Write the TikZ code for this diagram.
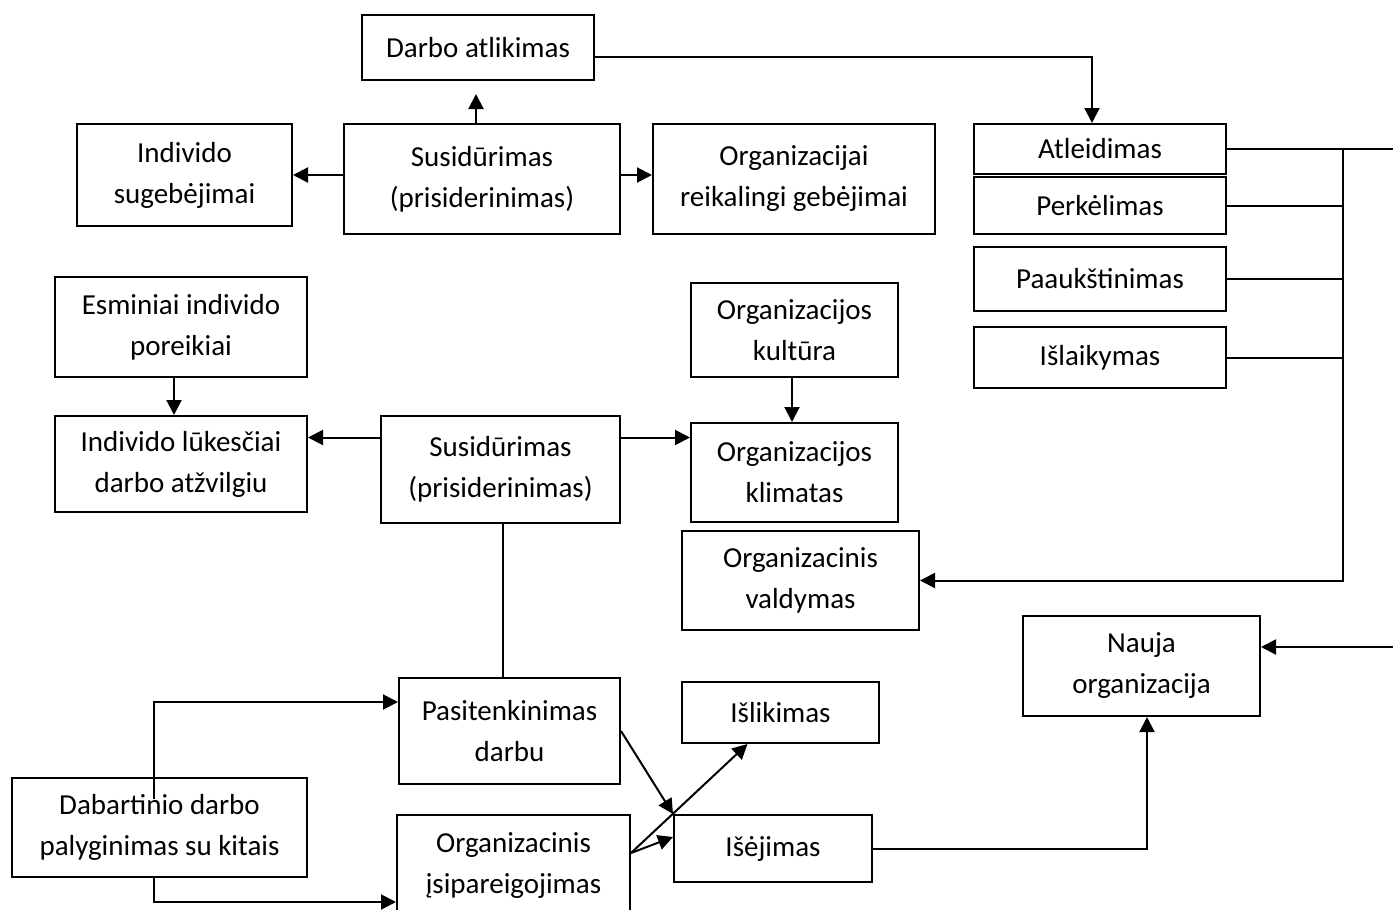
\documentclass[tikz,border=0pt]{standalone}
\usepackage{fontspec}
\setmainfont{Carlito}
\usetikzlibrary{arrows.meta}
\tikzstyle{block} = [rectangle, draw=black, line width=2pt, align=center, inner sep=0pt, font=\fontsize{29}{41}\selectfont]
\tikzstyle{arrow} = [line width=2pt, -{Triangle[length=15pt,width=15pt]}]
\tikzstyle{line} = [line width=2pt]

\begin{document}
\begin{tikzpicture}[x=1pt, y=-1pt]
\clip (0,0) rectangle (1393,910);

% top row
\node (darbo) [block, minimum width=232, minimum height=65] at (478,47.5) {Darbo atlikimas};
\node (sugeb) [block, minimum width=215, minimum height=102] at (184.5,175) {Individo\\sugebėjimai};
\node (susiA) [block, minimum width=276, minimum height=110] at (482,179) {Susidūrimas\\(prisiderinimas)};
\node (orgReik) [block, minimum width=282, minimum height=110] at (794,179) {Organizacijai\\reikalingi gebėjimai};

% outcomes on the right
\node (atleid) [block, minimum width=252, minimum height=50] at (1100,149) {Atleidimas};
\node (perkel) [block, minimum width=252, minimum height=57] at (1100,205.5) {Perkėlimas};
\node (paauk) [block, minimum width=252, minimum height=64] at (1100,279) {Paaukštinimas};
\node (islaik) [block, minimum width=252, minimum height=61] at (1100,357.5) {Išlaikymas};

% middle row
\node (esmin) [block, minimum width=252, minimum height=100] at (181,327) {Esminiai individo\\poreikiai};
\node (lukesc) [block, minimum width=252, minimum height=96] at (181,464) {Individo lūkesčiai\\darbo atžvilgiu};
\node (susiB) [block, minimum width=239, minimum height=107] at (500.5,469.5) {Susidūrimas\\(prisiderinimas)};
\node (kultura) [block, minimum width=207, minimum height=94] at (794.5,330) {Organizacijos\\kultūra};
\node (klimat) [block, minimum width=207, minimum height=99] at (794.5,472.5) {Organizacijos\\klimatas};
\node (valdym) [block, minimum width=237, minimum height=99] at (800.5,580.5) {Organizacinis\\valdymas};
\node (nauja) [block, minimum width=237, minimum height=100] at (1141.5,666) {Nauja\\organizacija};

% bottom row
\node (pasit) [block, minimum width=221, minimum height=106] at (509.5,731) {Pasitenkinimas\\darbu};
\node (islik) [block, minimum width=197, minimum height=61] at (780.5,712.5) {Išlikimas};
\node (isej) [block, minimum width=198, minimum height=67] at (773,848.5) {Išėjimas};
\node (dabart) [block, minimum width=295, minimum height=99] at (159.5,827.5) {Dabartinio darbo\\palyginimas su kitais};
\node (isip) [block, minimum width=233, minimum height=101] at (513.5,865.5) {Organizacinis\\įsipareigojimas};

\coordinate (busTop) at (1343,149);
\coordinate (edgeA) at (1400,149);
\coordinate (edgeB) at (1400,647);

% top connectors
\draw [arrow, shorten >=13pt] ([xshift=-6pt]susiA.north) -- ([xshift=-2pt]darbo.south);
\draw [arrow] (susiA.west |- sugeb) -- (sugeb.east);
\draw [arrow] (susiA.east |- sugeb) -- (orgReik.west |- sugeb);
\draw [arrow] ([yshift=-9.5pt]darbo.east) -| ([xshift=-8pt]atleid.north);

% right bus
\draw [line] (atleid.east) -- (edgeA) -- (edgeB);
\draw [arrow] (edgeB) -- (nauja.east |- edgeB);
\draw [arrow] (busTop) |- (valdym.east);
\draw [line] (perkel.east) -- (perkel.east -| busTop);
\draw [line] (paauk.east) -- (paauk.east -| busTop);
\draw [line] (islaik.east) -- (islaik.east -| busTop);

% middle connectors
\draw [arrow] ([xshift=-7pt]esmin.south) -- ([xshift=-7pt]lukesc.north);
\draw [arrow] ([yshift=32pt]susiB.west) -- ([yshift=32pt]susiB.west -| lukesc.east);
\draw [arrow] ([yshift=32pt]susiB.east) -- ([yshift=32pt]susiB.east -| klimat.west);
\draw [arrow] ([xshift=-2.5pt]kultura.south) -- ([xshift=-2.5pt]klimat.north);
\draw [line] ([xshift=2.5pt]susiB.south) -- ([xshift=2.5pt]susiB.south |- pasit.north);

% bottom connectors
\draw [arrow] ([xshift=-5.5pt,yshift=-22pt]dabart.north) |- ([yshift=29pt]pasit.west);
\draw [arrow] ([xshift=-5.5pt]dabart.south) |- ([yshift=-36.5pt]isip.west);
\draw [arrow] (pasit.east) -- (isej.north west);
\draw [arrow] ([yshift=12.5pt]isip.east) -- ([xshift=-33pt]islik.south);
\draw [arrow] ([yshift=12.5pt]isip.east) -- ([yshift=11.5pt]isej.west);
\draw [arrow] (isej.east) -| ([xshift=5.5pt]nauja.south);

\end{tikzpicture}
\end{document}
